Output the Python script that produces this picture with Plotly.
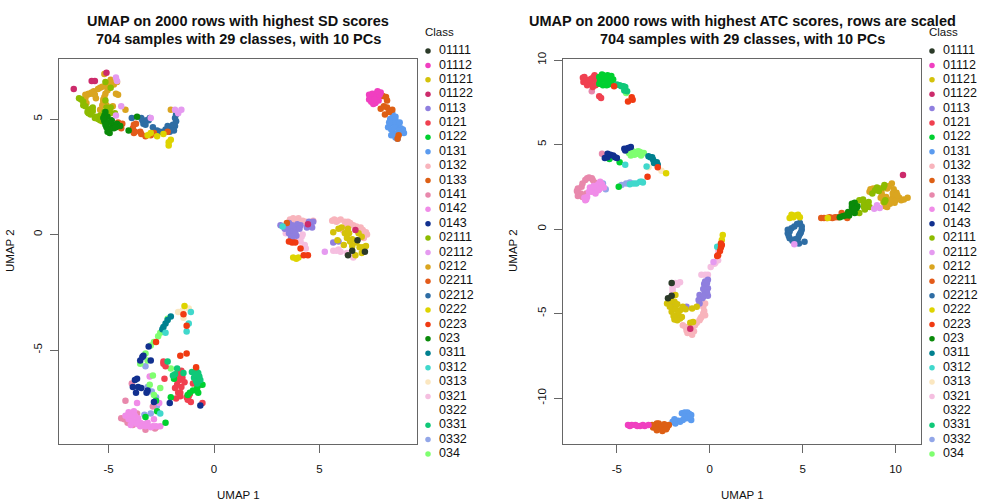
import plotly.graph_objects as go

W, H = 1008, 504

classes = ["01111", "01112", "01121", "01122", "0113", "0121", "0122", "0131", "0132", "0133",
           "0141", "0142", "0143", "02111", "02112", "0212", "02211", "02212", "0222", "0223",
           "023", "0311", "0312", "0313", "0321", "0322", "0331", "0332", "034"]
colors = ["#2B3A28", "#F03FC0", "#D4C20A", "#CC2B6B", "#8F7FDF", "#F04050", "#00D030", "#5B9BEF",
          "#F8B4BC", "#DD5F14", "#E888AC", "#F08CE8", "#11308F", "#8DBB00", "#E59AF0", "#DAA520",
          "#E35B1A", "#2E6DA4", "#DED400", "#F03A12", "#0A8A0A", "#00808F", "#40D8CC", "#FBE7C0",
          "#F5BFE0", "#FFFFFF", "#0FC878", "#92A6E8", "#7FFF70"]

# ---------------- SD panel, points ----------------
sd_01111 = [(6.8, -0.25), (6.55, -0.7), (6.35, -0.9), (7.15, -0.75)]
sd_01112 = [(7.4, 5.95), (7.65, 5.7), (7.5, 5.9), (7.8, 5.8), (7.9, 6.15), (7.65, 6.1), (7.35, 6.05), (7.45, 5.75),
            (7.5, 6.1), (7.35, 5.85), (7.55, 5.65), (7.7, 5.95), (7.85, 6.05), (7.6, 5.85), (7.75, 6.2)]
sd_01121 = [(5.65, 0.1), (5.9, 0.25), (5.85, -0.25), (6.15, -0.45), (6.3, -0.15), (6.55, -0.2), (6.55, -0.5),
            (6.85, 0.05), (7.0, -0.1), (7.2, -0.5), (6.7, -0.9), (6.35, 0.25), (6.9, -0.55), (7.0, -0.8), (6.2, 0.05),
            (6.05, 0.3), (6.45, -0.3), (6.75, -0.35), (7.05, -0.55), (6.4, 0.05)]
sd_01122 = [(-6.65, 6.3), (-5.8, 6.65), (-5.65, 6.65), (-5.1, 7.0), (6.7, 0.2), (4.45, 0.45)]
sd_0113 = [(3.15, 0.4), (3.55, 0.5), (3.6, 0.2), (3.55, 0.05), (3.75, 0.0), (3.7, -0.25), (4.1, 0.4), (4.5, 0.55),
           (4.7, 0.55), (4.65, 0.3), (3.85, 0.3), (5.65, -0.35), (5.9, -0.3), (4.4, 0.3), (3.9, -0.05),
           (3.35, 0.25), (3.5, 0.3), (3.95, 0.45), (3.85, 0.1), (3.65, -0.1), (4.05, 0.25), (4.55, 0.4), (3.7, 0.4)]
sd_0121 = [(-2.4, -5.5), (-2.3, -5.7), (-2.35, -6.25), (-1.65, -6.3), (-1.75, -6.5), (-1.55, -6.6), (-1.7, -6.85),
           (-1.6, -7.0), (-1.8, -7.1), (-1.2, -7.0), (-1.1, -7.25), (-1.0, -6.45), (-0.65, -6.5), (-0.55, -7.3),
           (-1.85, -6.65), (-1.5, -6.2), (-1.75, -6.05), (-1.6, -6.85), (-1.25, -7.15),
           (-1.65, -6.05), (-1.4, -6.4), (-1.15, -6.9), (-1.75, -6.3), (-1.55, -5.9), (-1.3, -7.05), (-0.7, -6.4), (-2.4, -5.6)]
sd_0122 = [(-1.9, -6.25), (-1.0, -6.75), (-0.8, -6.65), (-0.55, -6.5), (-0.75, -6.85), (-1.25, -6.95), (-2.05, -7.05),
           (-2.75, -7.2), (-2.7, -7.65), (-3.25, -7.9), (-2.3, -8.15), (-1.15, -6.85)]
sd_0131 = [(8.45, 5.25), (8.5, 5.05), (8.35, 4.8), (8.25, 4.65), (8.7, 4.75), (8.85, 4.6), (9.0, 4.4), (8.5, 4.4),
           (8.6, 4.2), (8.7, 4.15), (8.6, 4.95), (8.4, 4.55),
           (8.35, 5.0), (8.5, 4.85), (8.55, 4.65), (8.8, 4.85), (8.95, 4.55), (8.4, 4.3), (8.6, 5.1), (8.3, 4.85), (8.75, 4.5)]
sd_0132 = [(3.6, 0.65), (4.0, 0.7), (4.35, 0.55), (4.7, 0.6), (5.6, 0.6), (6.0, 0.65), (6.35, 0.55), (6.1, 0.2),
           (6.6, 0.4), (6.95, 0.3), (7.25, 0.0), (7.1, -0.15), (3.85, 0.6), (5.8, 0.55), (6.3, 0.35), (5.85, 0.6),
           (3.75, 0.7), (4.2, 0.6), (5.7, 0.65), (6.2, 0.55), (6.45, 0.5), (6.75, 0.35), (7.05, 0.2), (7.2, 0.1), (6.95, 0.1)]
sd_0133 = [(8.15, 5.95), (8.2, 5.8), (7.9, 5.45), (8.2, 5.5), (8.45, 5.4), (8.1, 5.2), (8.75, 4.3), (8.7, 4.15), (3.45, 0.5),
           (8.05, 5.55), (8.3, 5.3), (8.0, 6.0)]
sd_0141 = [(-3.9, -6.45), (-4.2, -7.2), (-2.9, -7.45), (-3.65, -7.75), (-4.4, -7.95), (-4.1, -8.15), (-2.75, -8.35),
           (-3.25, -8.45), (-4.25, -8.0), (-4.1, -7.95), (-4.0, -8.15), (-3.85, -8.25), (-2.8, -8.4)]
sd_0142 = [(-3.05, -6.15), (-3.65, -7.3), (-2.6, -7.3), (-4.05, -7.7), (-4.2, -7.85), (-3.95, -7.95), (-3.7, -8.1),
           (-3.5, -8.15), (-3.15, -8.15), (-2.85, -8.0), (-3.0, -8.35), (-2.55, -8.3), (-3.95, -8.25), (-3.5, -8.3),
           (-3.8, -7.65), (-2.75, -8.3), (-3.9, -7.8), (-3.75, -7.85), (-3.6, -7.95), (-3.3, -8.2), (-4.05, -8.0),
           (-3.85, -8.1), (-3.25, -8.3), (-2.9, -8.3), (-3.65, -8.2), (-4.0, -7.85)]
sd_0143 = [(-3.1, -4.85), (-3.35, -5.25), (-3.5, -5.45), (-3.0, -5.45), (-3.65, -6.25), (-3.85, -6.6), (-3.6, -6.6),
           (-3.45, -6.65), (-3.15, -6.75), (-3.2, -6.85), (-3.7, -6.85), (-2.1, -7.3), (-0.65, -7.4), (-2.85, -7.25),
           (-3.75, -6.3), (-3.4, -5.3)]
sd_02111 = [(-6.4, 5.9), (-6.2, 5.75), (-5.75, 5.5), (-5.95, 5.4), (-5.85, 5.2), (-5.5, 5.0), (-5.3, 4.9), (-4.9, 5.5),
            (-5.15, 5.8), (-4.9, 6.35), (-5.15, 6.6), (-4.9, 5.25), (-5.6, 5.1), (-5.95, 5.25), (-5.2, 5.3), (-6.2, 5.6),
            (-6.1, 5.55), (-6.0, 5.3), (-5.75, 5.35), (-5.65, 5.05), (-5.4, 5.15), (-5.0, 5.45), (-5.1, 5.5), (-4.7, 5.25),
            (-6.3, 5.85), (-5.8, 5.45), (-5.4, 4.95)]
sd_02112 = [(-4.65, 6.8), (-4.6, 6.65), (-4.4, 5.55), (-4.65, 5.15), (-3.0, 5.05), (-1.85, 5.4), (-1.55, 5.4),
            (-1.7, 5.25), (5.25, -0.75)]
sd_0212 = [(-5.2, 6.95), (-4.9, 6.7), (-5.1, 6.45), (-5.4, 6.35), (-5.7, 6.2), (-6.0, 6.05), (-6.1, 5.9), (-5.6, 5.9),
           (-4.55, 6.05), (-5.2, 5.95), (-5.1, 5.6), (-4.8, 5.55), (-5.4, 5.4), (-4.2, 5.4), (-2.05, 5.4), (-4.65, 6.1),
           (-5.0, 6.55), (-6.05, 5.7), (-5.85, 6.1), (-5.25, 5.75), (-4.6, 6.6),
           (-5.5, 6.3), (-5.8, 6.15), (-5.95, 6.1), (-5.3, 6.4), (-5.05, 6.25), (-4.95, 6.45), (-4.75, 6.5), (-5.15, 6.1),
           (-5.3, 5.6), (-5.25, 5.85), (-4.95, 5.4), (-6.1, 6.05), (-5.65, 6.05)]
sd_02211 = [(-4.55, 4.85), (-4.35, 4.8), (-4.4, 4.6), (-3.8, 4.75), (-3.7, 4.8), (-3.8, 4.4), (-3.5, 4.45), (-3.25, 4.25),
            (-2.85, 4.4), (-2.2, 4.45), (-3.85, 4.6), (-4.5, 4.7), (-3.75, 4.45), (-3.45, 4.35), (-3.0, 4.3)]
sd_02212 = [(-3.9, 5.05), (-3.4, 4.95), (-3.35, 4.8), (-3.1, 4.95), (-2.9, 4.65), (-2.7, 4.5), (-2.4, 4.45), (-2.05, 4.6),
            (-1.85, 4.7), (-1.9, 4.5), (-1.8, 5.2), (-1.8, 4.9), (-2.3, 4.55), (-3.2, 4.95),
            (-3.45, 5.05), (-3.25, 4.75), (-3.05, 5.05), (-2.1, 4.45), (-2.2, 4.7), (-1.95, 4.75), (-2.55, 4.45), (-1.85, 5.05)]
sd_0222 = [(-3.0, 4.4), (-2.7, 4.25), (-2.4, 4.35), (-2.15, 4.0), (-2.15, 3.85), (-2.05, 4.1), (-3.15, 4.3), (3.75, -1.0),
           (4.0, -1.0), (3.9, -1.05), (-1.4, -3.1)]
sd_0223 = [(3.7, -0.35), (3.85, -0.35), (4.1, -0.6), (4.25, -0.9), (4.45, -0.9), (3.55, -0.3), (-1.45, -3.45), (-1.3, -3.95),
           (-1.6, -5.25), (-1.3, -5.15), (-0.85, -5.75), (-2.75, -4.65)]
sd_023 = [(-5.15, 5.3), (-5.05, 5.1), (-4.8, 4.75), (-4.6, 4.8), (-5.05, 4.45), (-5.0, 4.55), (-4.05, 4.5), (-3.65, 5.1),
          (-5.2, 4.9), (-4.9, 4.6), (-5.1, 4.65), (-4.45, 4.7), (-5.0, 4.85), (-4.85, 4.95), (-4.75, 4.6), (-4.95, 4.4),
          (-5.15, 4.75), (-5.2, 5.15), (-4.65, 4.65), (-5.25, 5.05)]
sd_0311 = [(-2.05, -3.55), (-2.2, -3.7), (-2.3, -3.85), (-2.4, -4.0), (-2.45, -4.1)]
sd_0312 = [(-1.1, -3.35), (-1.2, -3.85), (-1.3, -4.2), (-2.3, -4.25), (-2.55, -7.75), (3.25, 0.35)]
sd_0313 = [(-1.7, -3.35), (-1.2, -3.2), (-1.45, -3.6), (-1.5, -3.3)]
sd_0321 = [(3.85, 0.25), (4.2, 0.0), (3.4, 0.05), (4.1, -0.3), (4.35, -0.6), (5.65, -0.7), (6.3, -0.8), (6.6, -1.0), (4.0, -0.2),
           (5.9, -0.65), (3.6, 0.15), (4.15, -0.1), (4.3, -0.45), (3.75, 0.05), (5.8, -0.7), (6.0, -0.75), (6.5, -0.85)]
sd_0322 = []
sd_0331 = [(-2.2, -5.5), (-1.75, -5.8), (-1.05, -5.95), (-0.75, -6.0), (-0.75, -6.2), (-0.95, -6.2), (-0.8, -6.45),
           (-1.95, -6.1), (-1.45, -6.0), (-0.85, -5.85), (-1.85, -6.05), (-0.85, -6.35), (-0.7, -6.15), (-0.9, -6.05), (-0.65, -6.3)]
sd_0332 = [(-3.25, -5.7), (-3.15, -6.6), (-2.95, -6.8), (-2.75, -7.05), (-2.7, -7.4), (-3.0, -7.75), (-3.3, -7.8)]
sd_034 = [(-2.2, -3.65), (-2.55, -4.25), (-2.85, -4.65), (-3.0, -4.8), (-3.25, -5.15), (-3.15, -5.45), (-3.5, -5.6), (-2.9, -6.1),
          (-2.05, -5.8), (-3.05, -6.5), (-2.55, -6.65), (-2.85, -6.95), (-2.65, -4.4)]

# ---------------- ATC panel ----------------
atc_01111 = [(-2.05, -3.2), (-2.25, -4.1), (-2.05, -3.95)]
atc_01112 = [(-4.4, -11.6), (-4.0, -11.6), (-3.75, -11.65), (-3.5, -11.65), (-4.2, -11.6), (-3.9, -11.65), (-3.6, -11.6),
             (-3.3, -11.6), (-4.3, -11.65)]
atc_01121 = [(-1.9, -4.3), (-2.3, -4.4), (-2.0, -4.65), (-1.6, -4.8), (-2.05, -4.9), (-1.75, -5.2), (-1.5, -5.2), (-1.45, -4.6),
             (-0.7, -4.6), (-1.05, -5.55), (-1.9, -5.35), (-0.9, -5.5), (-2.15, -4.3), (-1.75, -4.45), (-1.85, -4.75),
             (-2.15, -4.6), (-1.7, -5.0), (-1.95, -5.15), (-1.6, -5.3), (-1.3, -4.75), (-1.75, -5.4), (-0.95, -4.7),
             (-1.85, -3.9), (-2.1, -4.2)]
atc_01122 = [(-1.05, -5.9), (10.4, 3.2)]
atc_0113 = [(-0.1, -3.0), (-0.1, -3.5), (-0.25, -3.75), (-0.1, -3.95), (-0.55, -3.9), (-0.55, -4.4), (-2.0, -4.6), (-1.25, -4.6),
            (-0.3, -3.25), (-0.4, -4.1), (-0.25, -3.1), (-0.15, -3.75), (-0.35, -3.55), (-0.5, -4.1), (-0.35, -4.0),
            (-0.6, -4.2), (-0.15, -3.2)]
atc_0121 = [(-6.83, 8.95), (-6.45, 8.65), (-6.3, 8.4), (-6.2, 9.1), (-6.6, 8.7), (-5.95, 7.85), (-6.0, 8.6), (-6.7, 8.85),
            (-6.15, 8.8), (-6.6, 8.5), (-6.35, 8.9), (-6.15, 8.5), (-6.75, 9.0), (-6.45, 8.85), (-6.25, 9.0), (-6.0, 8.85),
            (-6.8, 8.7), (-5.85, 7.75)]
atc_0122 = [(-5.75, 9.1), (-5.5, 9.1), (-5.9, 8.8), (-5.55, 8.5), (-5.25, 8.7), (-5.75, 8.5), (-5.95, 9.0), (-5.4, 4.15),
            (-4.85, 3.95), (-4.9, 2.5), (-5.4, 8.9), (-5.6, 8.8), (-5.45, 8.55), (-5.8, 9.15), (-5.3, 9.05), (-5.65, 9.0),
            (-5.35, 8.6), (-5.2, 8.85), (-5.95, 8.6)]
atc_0131 = [(-1.2, -10.85), (-1.5, -10.9), (-1.25, -11.2), (-1.6, -11.4), (-2.0, -11.4), (-1.0, -11.0), (-1.0, -11.3),
            (-1.35, -10.85), (-1.1, -10.95), (-1.35, -11.1), (-1.45, -11.3), (-1.7, -11.35), (-1.85, -11.5), (-1.15, -11.15),
            (-1.9, -11.25), (-1.05, -11.1)]
atc_0132 = [(-0.25, -4.4), (-0.25, -5.1), (-0.55, -5.4), (-0.8, -5.7), (-1.45, -5.7), (-1.05, -6.15), (-0.95, -6.25),
            (-1.25, -6.0), (-0.45, -5.2), (-0.35, -4.6), (-0.3, -4.85), (-0.7, -5.55), (-0.5, -5.3), (-0.95, -5.85),
            (-1.1, -5.85), (-1.2, -6.15), (-1.3, -5.8), (-0.85, -6.05), (-0.35, -5.0)]
atc_0133 = [(-2.4, -11.7), (-2.85, -11.5), (-3.05, -11.75), (-2.7, -11.75), (-2.2, -11.6), (-2.55, -11.85), (-2.9, -11.75),
            (-2.75, -11.5), (-2.6, -11.7), (-2.3, -11.75), (-2.45, -11.55), (-3.1, -11.6), (-2.55, -11.95), (-2.85, -11.9),
            (-2.35, -11.85)]
atc_0141 = [(-6.35, 8.15), (-5.8, 4.45), (-6.35, 3.0), (-6.9, 2.5), (-7.1, 2.15), (-6.85, 1.9), (-6.3, 2.9), (-6.6, 3.0),
            (-7.1, 2.4), (-6.65, 2.1), (-6.85, 2.7), (-7.1, 1.95), (-6.5, 3.05), (-6.7, 2.9), (-6.2, 2.75), (-6.95, 2.1), (-7.15, 2.25)]
atc_0142 = [(-6.45, 2.45), (-6.2, 2.3), (-5.9, 2.8), (-6.6, 1.9), (-6.7, 1.7), (-6.35, 2.2), (-5.7, 2.45), (-6.0, 2.3),
            (-6.1, 2.55), (-6.0, 2.65), (-6.5, 2.2), (-6.75, 1.85), (-6.15, 2.1), (-5.8, 2.65), (-6.25, 2.55), (-5.95, 2.35), (-6.65, 1.75)]
atc_0143 = [(-4.4, 4.8), (-4.55, 4.65), (-5.35, 4.4), (-5.65, 4.2), (-5.0, 4.2), (-5.2, 4.35), (-4.25, 4.85), (-5.5, 4.25),
            (-4.6, 4.75), (-5.5, 4.45), (-5.1, 4.25)]
atc_02111 = [(8.05, 1.7), (8.05, 0.95), (8.5, 1.4), (8.6, 1.3), (9.0, 2.45), (9.4, 2.6), (9.4, 1.6), (8.75, 2.1), (8.3, 1.3),
             (8.3, 1.5), (8.35, 1.15), (8.9, 2.3), (9.1, 2.25), (8.55, 1.6), (8.25, 1.75), (9.35, 2.45), (9.45, 1.7)]
atc_02112 = [(0.2, -1.95), (4.55, -0.9), (8.85, 1.2), (9.15, 1.25), (9.0, 1.4)]
atc_0212 = [(8.6, 2.2), (9.25, 2.15), (9.8, 2.7), (9.55, 2.4), (9.85, 1.85), (9.95, 1.55), (9.55, 1.3), (10.05, 2.15), (10.3, 1.7),
            (10.65, 1.85), (9.7, 1.5), (9.2, 1.85), (10.0, 1.7), (8.8, 2.4), (9.3, 1.95), (9.5, 1.9), (9.7, 1.7), (9.85, 2.1),
            (9.9, 2.35), (10.2, 1.85), (9.15, 2.4), (8.65, 2.35), (9.65, 2.55), (10.45, 1.75), (9.35, 1.6), (9.6, 1.5),
            (10.1, 2.0), (9.45, 1.35)]
atc_02211 = [(6.3, 0.65), (6.6, 0.65), (7.1, 0.95), (7.4, 0.65), (6.0, 0.65), (6.9, 0.7), (6.15, 0.65), (6.75, 0.7), (7.2, 0.8),
             (6.45, 0.7)]
atc_02212 = [(4.85, 0.35), (4.4, 0.05), (4.2, -0.25), (4.95, -0.05), (4.75, -0.55), (4.3, -0.55), (5.1, -0.75), (4.8, -0.85),
             (4.2, -0.05), (4.85, -0.3), (4.55, 0.15), (4.3, -0.15), (4.25, -0.4), (4.9, -0.2), (4.8, -0.4), (4.7, 0.3),
             (4.95, 0.15), (4.45, -0.7), (4.7, -0.75), (4.6, -0.6)]
atc_0222 = [(-2.35, 3.3), (0.7, -0.35), (0.65, -0.65), (4.4, 0.85), (4.85, 0.7), (4.3, 0.65), (6.35, 0.65), (4.6, 0.8), (4.5, 0.7),
            (4.75, 0.85)]
atc_0223 = [(-4.2, 7.8), (-4.4, 7.55), (-4.15, 7.65), (-5.15, 8.45), (-3.35, 3.1), (-2.8, 3.65), (0.65, -0.95), (0.45, -1.55),
            (0.6, -1.1), (0.55, -1.3), (0.4, -1.6), (0.6, -0.85)]
atc_023 = [(7.15, 0.75), (7.5, 0.8), (7.8, 1.55), (7.9, 1.25), (7.8, 0.95), (7.65, 1.5), (7.65, 1.3), (7.7, 1.05), (7.3, 0.8),
           (7.45, 1.0), (7.95, 1.35), (7.0, 0.7), (7.8, 1.2)]
atc_0311 = [(-3.2, 4.25), (-2.95, 3.95), (-2.8, 3.8), (-3.05, 4.1), (-3.1, 4.25), (-2.85, 3.95), (-3.3, 4.3), (-3.0, 3.9)]
atc_0312 = [(-4.55, 3.8), (-3.4, 3.7), (-3.95, 2.7), (-3.65, 2.8), (-4.3, 2.65), (0.4, -1.05), (-3.75, 2.8), (-4.1, 2.7), (-3.6, 2.75)]
atc_0313 = [(-3.3, 3.65), (-2.6, 3.45)]
atc_0321 = [(0.45, -1.3), (0.45, -1.85), (0.05, -2.25), (-0.45, -2.7), (-0.1, -2.7), (-1.6, -3.15), (-2.0, -3.45), (-2.0, -3.75),
            (-1.85, -3.2), (0.25, -2.05), (-0.25, -2.7), (0.3, -2.0), (-1.75, -3.3), (-2.0, -3.6)]
atc_0322 = []
atc_0331 = [(-4.85, 8.5), (-4.55, 8.4), (-4.45, 8.15), (-4.75, 8.45), (-5.0, 8.55), (-4.65, 8.45), (-4.6, 8.2)]
atc_0332 = [(-4.75, 2.6), (-4.5, 2.7), (-5.75, 2.7), (-5.6, 2.35), (-4.3, 2.75)]
atc_034 = [(-4.5, 8.05), (-4.35, 4.5), (-3.75, 4.55), (-3.55, 4.5), (-3.9, 4.45), (-4.15, 4.6), (-4.25, 4.35), (-3.85, 4.6),
           (-3.7, 4.35), (-3.95, 4.55), (-3.65, 4.45), (-4.05, 4.4)]

sd_points = [sd_01111, sd_01112, sd_01121, sd_01122, sd_0113, sd_0121, sd_0122, sd_0131, sd_0132, sd_0133,
             sd_0141, sd_0142, sd_0143, sd_02111, sd_02112, sd_0212, sd_02211, sd_02212, sd_0222, sd_0223,
             sd_023, sd_0311, sd_0312, sd_0313, sd_0321, sd_0322, sd_0331, sd_0332, sd_034]
atc_points = [atc_01111, atc_01112, atc_01121, atc_01122, atc_0113, atc_0121, atc_0122, atc_0131, atc_0132, atc_0133,
              atc_0141, atc_0142, atc_0143, atc_02111, atc_02112, atc_0212, atc_02211, atc_02212, atc_0222, atc_0223,
              atc_023, atc_0311, atc_0312, atc_0313, atc_0321, atc_0322, atc_0331, atc_0332, atc_034]

# draw order so the darker/top classes end up over the pale ones, as in the picture
draw_order = [8, 24, 23, 4, 27, 10, 11, 28, 15, 13, 17, 16, 7, 9, 1, 2, 18, 5, 6, 26, 12, 20, 21, 22, 14, 19, 3, 0]

FONT = "Liberation Sans, Arial, sans-serif"
INK = "#111111"
FRAME = "#666666"

fig = go.Figure()


def add_points(points, xaxis, yaxis):
    for i in draw_order:
        fig.add_trace(go.Scatter(
            x=[p[0] for p in points[i]],
            y=[p[1] for p in points[i]],
            mode="markers",
            name=classes[i],
            marker=dict(color=colors[i], size=6.5),
            xaxis=xaxis,
            yaxis=yaxis,
            showlegend=False,
            hoverinfo="skip",
        ))


def add_key(xaxis, yaxis):
    rows = list(range(len(classes)))
    fig.add_trace(go.Scatter(x=[0] * len(rows), y=rows, mode="markers", marker=dict(color=colors, size=5.5),
                             xaxis=xaxis, yaxis=yaxis, showlegend=False, hoverinfo="skip", cliponaxis=False))
    fig.add_trace(go.Scatter(x=[11] * len(rows), y=rows, mode="text", text=classes, textposition="middle right",
                             textfont=dict(family=FONT, size=12.5, color=INK),
                             xaxis=xaxis, yaxis=yaxis, showlegend=False, hoverinfo="skip", cliponaxis=False))


add_points(sd_points, "x", "y")
add_points(atc_points, "x2", "y2")
add_key("x3", "y3")
add_key("x4", "y4")


def data_axis(domain, rng, ticks, standoff):
    return dict(domain=domain, range=rng, tickvals=ticks, ticktext=[str(t) for t in ticks], ticks="outside", ticklen=8,
                tickwidth=1, tickcolor=FRAME, showline=True, linecolor=FRAME, linewidth=1, mirror=True, showgrid=False,
                zeroline=False, automargin=False, ticklabelstandoff=standoff,
                tickfont=dict(family=FONT, size=11.5, color=INK))


def hidden_axis(domain, rng, anchor):
    return dict(domain=domain, range=rng, visible=False, anchor=anchor, fixedrange=True, automargin=False)


xa1 = data_axis([59 / W, 417 / W], [-7.35, 9.62], [-5, 0, 5], 6)
ya1 = data_axis([1 - 444 / H, 1 - 59 / H], [-9.07, 7.6], [-5, 0, 5], 3)
xa2 = data_axis([563 / W, 921 / W], [-7.9, 11.37], [-5, 0, 5, 10], 6)
ya2 = data_axis([1 - 444 / H, 1 - 59 / H], [-12.72, 10.06], [-10, -5, 0, 5, 10], 3)
xa2["anchor"] = "y2"
ya2["anchor"] = "x2"
ya1["tickangle"] = -90
ya2["tickangle"] = -90

annotations = []


def text(x, y, s, size, bold=False, angle=0, anchor="center"):
    annotations.append(dict(xref="paper", yref="paper", x=x / W, y=1 - y / H, text=f"<b>{s}</b>" if bold else s, showarrow=False,
                            font=dict(family=FONT, size=size, color=INK), textangle=angle, xanchor=anchor, yanchor="middle"))


text(238, 21, "UMAP on 2000 rows with highest SD scores", 14.5, bold=True)
text(238, 39, "704 samples with 29 classes, with 10 PCs", 14.5, bold=True)
text(742, 21, "UMAP on 2000 rows with highest ATC scores, rows are scaled", 14.5, bold=True)
text(742, 39, "704 samples with 29 classes, with 10 PCs", 14.5, bold=True)
text(238, 495, "UMAP 1", 11.5)
text(742, 495, "UMAP 1", 11.5)
text(10, 251, "UMAP 2", 11.5, angle=-90)
text(513, 251, "UMAP 2", 11.5, angle=-90)
text(423, 32, "Class", 11.5, anchor="left")
text(927, 32, "Class", 11.5, anchor="left")

fig.update_layout(
    width=W,
    height=H,
    margin=dict(l=0, r=0, t=0, b=0),
    paper_bgcolor="white",
    plot_bgcolor="white",
    showlegend=False,
    xaxis=xa1,
    yaxis=ya1,
    xaxis2=xa2,
    yaxis2=ya2,
    xaxis3=hidden_axis([428 / W, 475 / W], [0, 47], "y3"),
    yaxis3=hidden_axis([1 - 454 / H, 1 - 51 / H], [28, 0], "x3"),
    xaxis4=hidden_axis([932 / W, 979 / W], [0, 47], "y4"),
    yaxis4=hidden_axis([1 - 454 / H, 1 - 51 / H], [28, 0], "x4"),
    annotations=annotations,
)

fig.write_html("out.html", post_script="document.body.style.margin='0';", config={"displayModeBar": False})
